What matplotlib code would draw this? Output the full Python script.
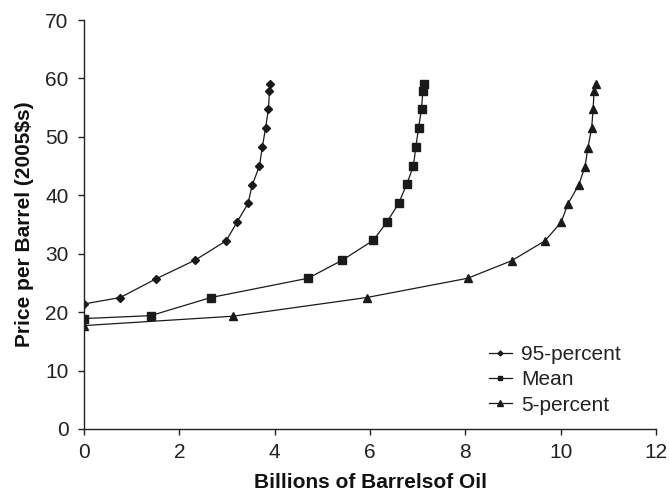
import matplotlib
matplotlib.use("Agg")
import matplotlib.pyplot as plt

plt.rcParams['font.family'] = ['Liberation Sans', 'DejaVu Sans']

# 95-percent series
x95 = [0.0, 0.76, 1.51, 2.33, 2.98, 3.21, 3.44, 3.53, 3.68, 3.74, 3.81, 3.87, 3.89, 3.90]
y95 = [21.4, 22.5, 25.7, 28.9, 32.2, 35.4, 38.6, 41.8, 45.0, 48.2, 51.6, 54.8, 57.9, 59.0]

# Mean series
xmean = [0.0, 1.40, 2.66, 4.70, 5.42, 6.07, 6.36, 6.60, 6.77, 6.91, 6.96, 7.02, 7.08, 7.11, 7.13]
ymean = [18.9, 19.4, 22.5, 25.8, 28.9, 32.3, 35.5, 38.6, 41.9, 45.0, 48.2, 51.6, 54.8, 57.9, 59.0]

# 5-percent series
x5 = [0.0, 3.12, 5.93, 8.05, 8.97, 9.67, 10.01, 10.15, 10.38, 10.51, 10.57, 10.65, 10.68, 10.70, 10.74]
y5 = [17.7, 19.3, 22.5, 25.8, 28.8, 32.2, 35.4, 38.5, 41.8, 44.9, 48.1, 51.5, 54.7, 57.9, 59.0]

series_names = ["95-percent", "Mean", "5-percent"]

fig = plt.figure(figsize=(6.69, 4.94), dpi=100)
ax = fig.add_axes([0.1256, 0.1316, 0.855, 0.8279])

col = '#1a1a1a'
ax.plot(x95, y95, color=col, lw=0.9, marker='D', ms=4.2, mfc=col, mec=col, label=series_names[0])
ax.plot(xmean, ymean, color=col, lw=0.9, marker='s', ms=6.0, mfc=col, mec=col, label=series_names[1])
ax.plot(x5, y5, color=col, lw=0.9, marker='^', ms=6.3, mfc=col, mec=col, label=series_names[2])

ax.set_xlim(0, 12)
ax.set_ylim(0, 70)
ax.set_xticks(range(0, 13, 2))
ax.set_yticks(range(0, 71, 10))
for s in ['top', 'right']:
    ax.spines[s].set_visible(False)
for s in ['left', 'bottom']:
    ax.spines[s].set_linewidth(1.0)
    ax.spines[s].set_color('#222222')
ax.tick_params(direction='out', length=4, width=1, labelsize=15, colors='#222222')
ax.tick_params(axis='y', pad=7)
ax.tick_params(axis='x', pad=6)

ax.set_xlabel("Billions of Barrelsof Oil", fontsize=15, fontweight='bold', labelpad=8, color='#111111')
ax.set_ylabel("Price per Barrel (2005$s)", fontsize=15, fontweight='bold', labelpad=8, color='#111111')

leg = ax.legend(loc='lower left', bbox_to_anchor=(0.708, 0.035), frameon=False, fontsize=15,
                handlelength=1.1, handletextpad=0.45, labelspacing=0.3, markerscale=0.6,
                borderpad=0, borderaxespad=0)
for t in leg.get_texts():
    t.set_color('#222222')

fig.savefig("out.png", dpi=100)
